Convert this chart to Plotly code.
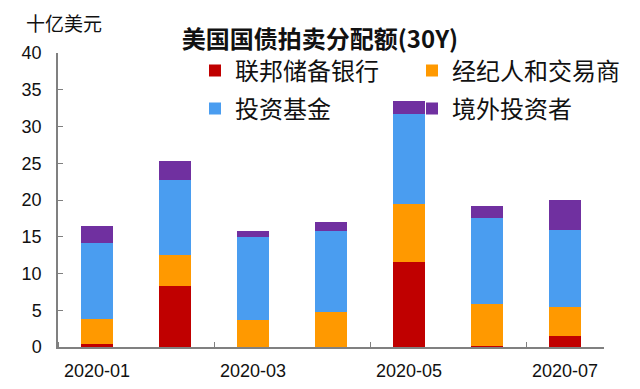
import plotly.graph_objects as go

months = ["2020-01", "2020-02", "2020-03", "2020-04", "2020-05", "2020-06", "2020-07"]
fed = [0.4, 8.3, 0.0, 0.0, 11.5, 0.1, 1.5]
dealers = [3.4, 4.2, 3.7, 4.8, 8.0, 5.7, 4.0]
funds = [10.4, 10.2, 11.2, 11.0, 12.2, 11.8, 10.4]
foreign = [2.2, 2.6, 0.9, 1.2, 1.8, 1.6, 4.1]

series = [
    ("联邦储备银行", fed, "#C00000", "legend"),
    ("经纪人和交易商", dealers, "#FF9900", "legend"),
    ("投资基金", funds, "#4A9DF0", "legend2"),
    ("境外投资者", foreign, "#7030A0", "legend2"),
]

x = list(range(len(months)))
fig = go.Figure()
for name, vals, color, lg in series:
    fig.add_trace(go.Bar(x=x, y=vals, name=name, marker=dict(color=color, line=dict(width=0)),
                         legend=lg))

cjk = "Noto Sans CJK SC"
leg_common = dict(orientation="h", xref="container", yref="container", xanchor="left",
                  yanchor="middle", font=dict(family=cjk, size=24, color="#111"),
                  bgcolor="rgba(0,0,0,0)", entrywidth=172, traceorder="normal",
                  itemclick=False)

W, H = 640, 389
L, R, T, B = 58, 36, 53, 42
pw, ph = W - L - R, H - T - B

fig.update_layout(
    width=W, height=H,
    margin=dict(l=L, r=R, t=T, b=B, autoexpand=False),
    barmode="stack", bargap=0.6,
    plot_bgcolor="white", paper_bgcolor="white",
    title=dict(text="<b>美国国债拍卖分配额(30Y)</b>", x=0.5, xref="container", xanchor="center",
               y=1 - 40 / H, yref="container", yanchor="middle",
               font=dict(family=cjk, size=24, color="#111")),
    legend=dict(x=195 / W, y=1 - 71 / H, **leg_common),
    legend2=dict(x=195 / W, y=1 - 109 / H, **leg_common),
    xaxis=dict(range=[-0.5, 6.5], tickmode="array", tickvals=[0, 2, 4, 6],
               ticktext=[months[i] for i in [0, 2, 4, 6]], ticks="",
               showline=True, linecolor="#808080", linewidth=1.5, ticklabelstandoff=7,
               tickfont=dict(family="Liberation Sans", size=18, color="#111"),
               minor=dict(tick0=1.5, dtick=2, ticks="inside", ticklen=5, tickcolor="#808080"),
               showgrid=False, zeroline=False, fixedrange=True),
    yaxis=dict(range=[0, 40], dtick=5, ticks="inside", ticklen=5, tickcolor="#808080",
               showline=True, linecolor="#808080", linewidth=1.5, showgrid=False,
               zeroline=False, ticklabelstandoff=11, fixedrange=True,
               tickfont=dict(family="Liberation Sans", size=18, color="#111")),
    annotations=[dict(text="十亿美元", xref="paper", yref="paper", x=(24 - L) / pw,
                      y=(H - B - 22) / ph, xanchor="left", yanchor="middle", showarrow=False,
                      font=dict(family=cjk, size=19, color="#111"))],
)

fig.write_html("out.html", config={"displayModeBar": False},
               post_script="document.body.style.margin='0';")
